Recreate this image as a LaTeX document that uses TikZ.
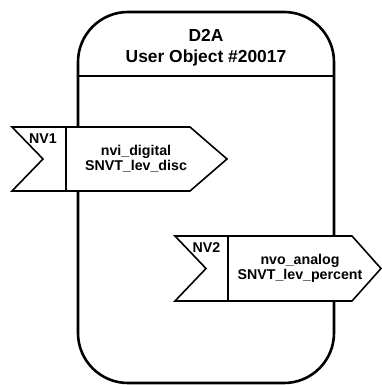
\documentclass[tikz,border=0pt]{standalone}
\usepackage{fontspec}
\setmainfont{Liberation Sans}
\usetikzlibrary{positioning, calc}
\tikzset{
  objbox/.style={draw, line width=2.6pt, rounded corners=50pt, minimum width=256pt, minimum height=371pt, inner sep=0pt},
  flag/.style={draw, line width=1.6pt, fill=white, line join=miter},
  title/.style={align=center, font=\fontsize{17.4}{21}\selectfont\bfseries},
  nvname/.style={anchor=base, font=\fontsize{14.2}{15}\selectfont\bfseries},
  nvtext/.style={align=center, font=\fontsize{14.2}{15}\selectfont\bfseries},
}

\begin{document}
\begin{tikzpicture}[x=1pt, y=-1pt]
      \useasboundingbox (0,0) rectangle (382,385);
      \node[objbox] (obj) at (206,197.5) {};
      \coordinate (head) at (0,76);
      \draw[line width=2.6pt] (obj.west |- head) -- (obj.east |- head);
      \node[title] (name) at (206,48) {D2A \\ User Object \#20017};

      \draw[flag] (12,127) -- (190,127) -- (227,159) -- (190,191) -- (12,191) -- (43,159) -- cycle;
      \draw[flag] (66,127) -- (66,191);
      \node[nvname] (nv1) at (43,143) {NV1};
      \node[nvtext] (nvi) at (136,159) {nvi\_digital \\ SNVT\_lev\_disc};

      \draw[flag] (175,236) -- (352,236) -- (381,268.5) -- (352,301) -- (175,301) -- (206,268.5) -- cycle;
      \draw[flag] (228,236) -- (228,301);
      \node[nvname] (nv2) at (206.5,252) {NV2};
      \node[nvtext] (nvo) at (300,268) {nvo\_analog \\ SNVT\_lev\_percent};
    \end{tikzpicture}
\end{document}
